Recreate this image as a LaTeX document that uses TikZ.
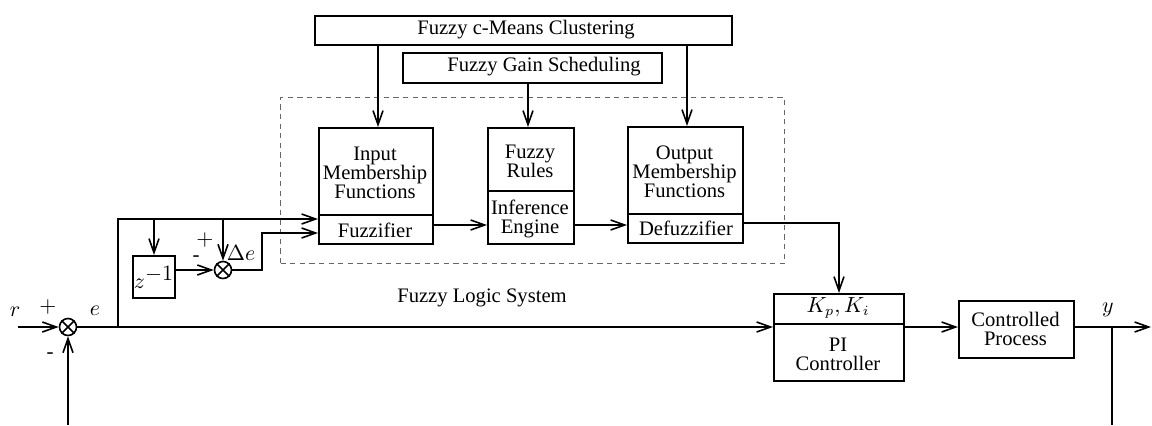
\documentclass[tikz,border=0pt]{standalone}
\usepackage{fontspec}
\setmainfont{Liberation Serif}
\usetikzlibrary{arrows.meta}
\begin{document}
\begin{tikzpicture}[x=0.5pt,y=-0.5pt,line width=0.8pt,
  >={Straight Barb[length=7pt,width=5pt]},
  blk/.style={draw,rectangle,inner sep=0pt,anchor=north west},
  txt/.style={font=\fontsize{10.3}{9.6}\selectfont,align=center,inner sep=0pt},
  mth/.style={font=\fontsize{10.5}{12}\selectfont,inner sep=0pt},
  sumc/.style={draw,circle,minimum size=8.5pt,inner sep=0pt},
  flsbox/.style={draw=black!60,line width=0.6pt,dash pattern=on 2.6pt off 2.2pt,rectangle,inner sep=0pt,anchor=north west}]
\useasboundingbox (0,0) rectangle (1152,425);

% top boxes
\node[blk,minimum width=208.5pt,minimum height=14.5pt] (fcm) at (314,15) {};
\node[txt] (fcmt) at (526,29.5) {Fuzzy c-Means Clustering};
\node[blk,minimum width=129.5pt,minimum height=15pt] (fgs) at (402,52) {};
\node[txt] (fgst) at (544,67) {Fuzzy Gain Scheduling};

% dashed fuzzy logic system
\node[flsbox,minimum width=252pt,minimum height=83pt] (fls) at (280,97) {};
\node[txt] (flst) at (482,298) {Fuzzy Logic System};

% inner blocks
\node[blk,minimum width=57pt,minimum height=58pt] (imf) at (318,127) {};
\draw (318,215) -- (432,215);
\node[txt] (imft) at (375,173) {Input\\Membership\\Functions};
\node[txt] (fuzt) at (375,230) {Fuzzifier};

\node[blk,minimum width=43pt,minimum height=58pt] (rules) at (487,127) {};
\draw (487,191) -- (573,191);
\node[txt] (rulest) at (530,161) {Fuzzy\\Rules};
\node[txt] (inft) at (530,219) {Inference\\Engine};

\node[blk,minimum width=57.5pt,minimum height=58pt] (omf) at (627,126) {};
\draw (627,214) -- (742,214);
\node[txt] (omft) at (684.5,172) {Output\\Membership\\Functions};
\node[txt] (deft) at (686,228) {Defuzzifier};

% PI and process
\node[blk,minimum width=65pt,minimum height=43.5pt] (pi) at (773,293) {};
\draw (773,324) -- (903,324);
\node[mth] (kt) at (838,308) {$K_p, K_i$};
\node[txt] (pit) at (838,354) {PI\\Controller};
\node[blk,minimum width=57.5pt,minimum height=28.5pt] (cp) at (958,300) {};
\node[txt] (cpt) at (1015.5,329) {Controlled\\Process};

% summing junctions
\node[sumc] (s1) at (68,327) {};
\draw (s1.45) -- (s1.225) (s1.135) -- (s1.315);
\node[sumc] (s2) at (223,270) {};
\draw (s2.45) -- (s2.225) (s2.135) -- (s2.315);

% delay
\node[blk,minimum width=21pt,minimum height=21pt] (zb) at (132,255) {};
\node[mth] (zt) at (154,277) {$z^{\textstyle -1}$};

% coordinates
\coordinate (in) at (18,327);
\coordinate (j1) at (118,327);
\coordinate (j2) at (118,219);
\coordinate (j3) at (154,219);
\coordinate (j4) at (223,219);
\coordinate (k1) at (262,270);
\coordinate (k2) at (262,233);
\coordinate (m1) at (839,223);
\coordinate (a1) at (378,0);
\coordinate (a2) at (528,0);
\coordinate (a3) at (687,0);
\coordinate (out) at (1151,327);
\coordinate (fb1) at (1112,327);
\coordinate (fb2) at (1112,425);
\coordinate (fb3) at (68,425);

% connectors
\draw[->] (in) -- (s1.west);
\draw[->] (s1.east) -- (s1 -| pi.west);
\draw[->] (j1) -- (j2) -- (imf.west |- j2);
\draw[->] (j3) -- (j3 |- zb.north);
\draw[->] (j4) -- (s2.north);
\draw[->] (zb.east |- s2) -- (s2.west);
\draw[->] (s2.east) -- (k1) -- (k2) -- (imf.west |- k2);
\draw[->] (imf.east |- 0,225) -- (rules.west |- 0,225);
\draw[->] (rules.east |- 0,225) -- (omf.west |- 0,225);
\draw[->] (omf.east |- m1) -- (m1) -- (m1 |- pi.north);
\draw[->] (fcm.south -| a1) -- (imf.north -| a1);
\draw[->] (fgs.south -| a2) -- (rules.north -| a2);
\draw[->] (fcm.south -| a3) -- (omf.north -| a3);
\draw[->] (pi.east |- s1) -- (cp.west |- s1);
\draw[->] (cp.east |- s1) -- (out);
\draw (fb1) -- (fb2);
\draw[->] (fb3) -- (s1.south);

% signs and signal labels
\node[mth] (rl) at (15,312) {$r$};
\node[mth] (p1) at (48,307) {$+$};
\node[mth] (el) at (95,311) {$e$};
\node[mth] (m1l) at (50,356) {-};
\node[mth] (p2) at (205,240) {$+$};
\node[mth] (m2l) at (196,259) {-};
\node[mth] (del) at (241,253) {$\Delta e$};
\node[mth] (yl) at (1108,310) {$y$};
\end{tikzpicture}
\end{document}
